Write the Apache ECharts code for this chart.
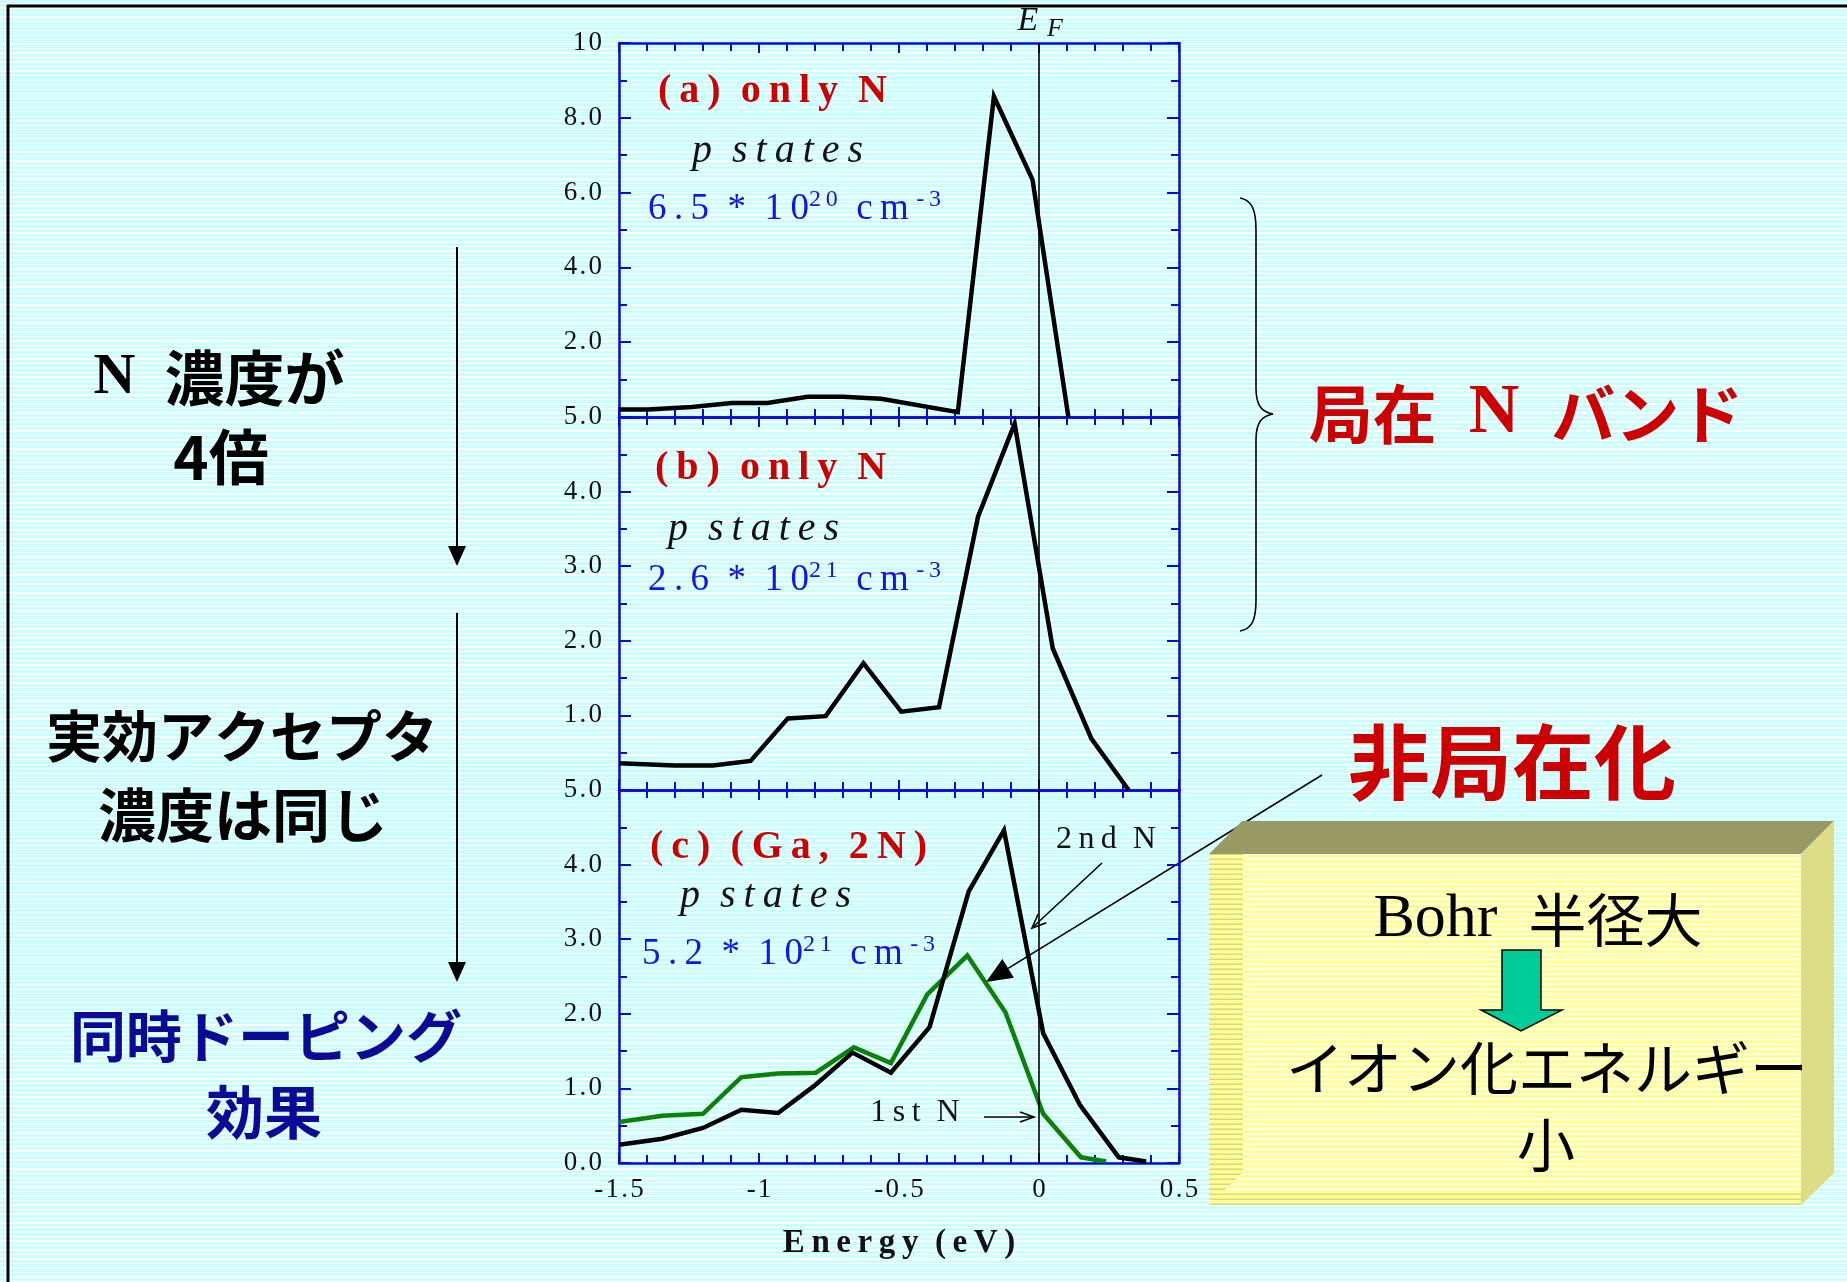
<!DOCTYPE html>
<html>
<head>
<meta charset="UTF-8">
<title>p states DOS</title>
<script src="https://cdn.jsdelivr.net/npm/echarts@6/dist/echarts.min.js"></script>
<style>
  html, body { margin: 0; padding: 0; }
  body {
    width: 1847px; height: 1282px; overflow: hidden;
    background: repeating-linear-gradient(to bottom, #ccffff 0px, #ccffff 3px, #ffffff 3px, #ffffff 4.5px);
  }
  #chart { width: 1847px; height: 1282px; }
</style>
</head>
<body>
<div id="chart"></div>
<script>
// ---- data ----
// (a) only N, 6.5e20
var aEnergy = [-1.5, -1.395, -1.24, -1.097, -0.97, -0.827, -0.70, -0.564, -0.29, -0.161, -0.023, 0.105];
var aDos    = [0.2, 0.2, 0.27, 0.375, 0.375, 0.54, 0.54, 0.49, 0.13, 8.57, 6.34, 0];
// (b) only N, 2.6e21
var bEnergy = [-1.5, -1.30, -1.165, -1.03, -0.897, -0.762, -0.627, -0.492, -0.357, -0.218, -0.087, 0.049, 0.187, 0.32];
var bDos    = [0.357, 0.33, 0.33, 0.39, 0.96, 0.99, 1.70, 1.05, 1.11, 3.66, 4.91, 1.90, 0.69, 0.0];
// (c) (Ga, 2N), 2nd N (black) and 1st N (green)
var c2Energy = [-1.5, -1.345, -1.2, -1.063, -0.932, -0.804, -0.666, -0.529, -0.391, -0.251, -0.125, 0.015, 0.146, 0.285, 0.383];
var c2Dos    = [0.245, 0.326, 0.47, 0.714, 0.67, 1.03, 1.48, 1.21, 1.82, 3.64, 4.46, 1.74, 0.78, 0.076, 0.02];
var c1Energy = [-1.5, -1.345, -1.2, -1.063, -0.932, -0.797, -0.661, -0.529, -0.399, -0.256, -0.12, 0.015, 0.15, 0.24];
var c1Dos    = [0.55, 0.634, 0.66, 1.15, 1.20, 1.21, 1.55, 1.34, 2.26, 2.78, 2.02, 0.66, 0.076, 0.02];

// tick labels
var xTicks = [-1.5, -1, -0.5, 0, 0.5];
var xTickText = ['-1.5', '-1', '-0.5', '0', '0.5'];
var aYTicks = [0, 2, 4, 6, 8, 10];
var aYText  = ['', '2.0', '4.0', '6.0', '8.0', '10'];
var bYTicks = [0, 1, 2, 3, 4, 5];
var bYText  = ['', '1.0', '2.0', '3.0', '4.0', '5.0'];
var cYText  = ['0.0', '1.0', '2.0', '3.0', '4.0', '5.0'];

var SERIF = '"Liberation Serif", "Times New Roman", serif';
var GOTHIC = '"Noto Sans CJK JP", sans-serif';
var AXIS_BLUE = '#0a0ad2';
var CONC_BLUE = '#1414e6';
var RED = '#cc0000';

// letter-spaced words (thin space), en space between words
function sp(s) {
  return s.split(' ').map(function (w) { return w.split('').join('\u2009'); }).join('\u2002');
}
// tighter spacing for tick numbers
function spTick(s) { return s.split('').join('\u200A'); }
function lookup(ticks, texts) {
  return function (v) {
    for (var i = 0; i < ticks.length; i++) {
      if (Math.abs(ticks[i] - v) < 1e-6) return spTick(texts[i]);
    }
    return '';
  };
}
function pairs(xs, ys) {
  var out = [];
  for (var i = 0; i < xs.length; i++) out.push([xs[i], ys[i]]);
  return out;
}
function stripes(base, line, period, lineH) {
  var c = document.createElement('canvas');
  c.width = 8; c.height = period;
  var g = c.getContext('2d');
  g.fillStyle = base; g.fillRect(0, 0, 8, period);
  g.fillStyle = line; g.fillRect(0, period - lineH, 8, lineH);
  return { image: c, repeat: 'repeat' };
}

var grids = [
  { left: 619, top: 43, width: 560, height: 374 },
  { left: 619, top: 417, width: 560, height: 373 },
  { left: 619, top: 790, width: 560, height: 373 }
];

function xAxisOf(i, pos) {
  var bottomLabels = (pos === 'bottom' && i === 2);
  return {
    type: 'value', gridIndex: i, position: pos,
    min: -1.5, max: 0.5, interval: 0.5,
    axisLine: { show: true, onZero: false, lineStyle: { color: AXIS_BLUE, width: 2.5 } },
    axisTick: { show: true, inside: true, length: 10, lineStyle: { color: AXIS_BLUE, width: 2 } },
    minorTick: { show: true, splitNumber: 5, length: 8, lineStyle: { color: AXIS_BLUE, width: 2 } },
    splitLine: { show: false },
    axisLabel: {
      show: bottomLabels, margin: 13, color: '#111',
      fontFamily: SERIF, fontSize: 27,
      formatter: lookup(xTicks, xTickText)
    },
    name: bottomLabels ? sp('Energy (eV)') : '',
    nameLocation: 'middle', nameGap: 64,
    nameTextStyle: { fontFamily: SERIF, fontSize: 33, fontWeight: 'bold', color: '#111' }
  };
}
function yAxisOf(i, pos, max, interval, ticks, texts) {
  return {
    type: 'value', gridIndex: i, position: pos,
    min: 0, max: max, interval: interval,
    axisLine: { show: true, onZero: false, lineStyle: { color: AXIS_BLUE, width: 2.5 } },
    axisTick: { show: true, inside: true, length: 12, lineStyle: { color: AXIS_BLUE, width: 2 } },
    minorTick: { show: true, splitNumber: 2, length: 8, lineStyle: { color: AXIS_BLUE, width: 2 } },
    splitLine: { show: false },
    axisLabel: {
      show: pos === 'left', margin: 17, color: '#111',
      fontFamily: SERIF, fontSize: 27,
      formatter: lookup(ticks, texts)
    }
  };
}

var efLine = {
  silent: true, symbol: 'none', animation: false,
  lineStyle: { color: '#000', width: 1.6, type: 'solid' },
  label: { show: false },
  data: [{ xAxis: 0 }]
};
function lineSeries(name, xi, yi, data, color, withEf) {
  var s = {
    name: name, type: 'line', xAxisIndex: xi, yAxisIndex: yi,
    data: data, symbol: 'none', clip: true, animation: false,
    lineStyle: { color: color, width: 4.5, join: 'miter' }
  };
  if (withEf) s.markLine = efLine;
  return s;
}

// ---- annotation helpers ----
function headPts(x1, y1, x2, y2, len, half) {
  var dx = x2 - x1, dy = y2 - y1, L = Math.sqrt(dx * dx + dy * dy);
  var ux = dx / L, uy = dy / L;
  var bx = x2 - ux * len, by = y2 - uy * len;
  return [[bx - uy * half, by + ux * half], [x2, y2], [bx + uy * half, by - ux * half]];
}
function arrowFilled(x1, y1, x2, y2, len, half, w) {
  var h = headPts(x1, y1, x2, y2, len, half);
  return [
    { type: 'line', shape: { x1: x1, y1: y1, x2: (h[0][0] + h[2][0]) / 2, y2: (h[0][1] + h[2][1]) / 2 }, style: { stroke: '#000', lineWidth: w } },
    { type: 'polygon', shape: { points: h }, style: { fill: '#000' } }
  ];
}
function arrowOpen(x1, y1, x2, y2, len, half, w) {
  return [
    { type: 'line', shape: { x1: x1, y1: y1, x2: x2, y2: y2 }, style: { stroke: '#000', lineWidth: w } },
    { type: 'polyline', shape: { points: headPts(x1, y1, x2, y2, len, half) }, style: { stroke: '#000', lineWidth: w, fill: null } }
  ];
}
function txt(x, y, text, font, color) {
  return { type: 'text', x: x, y: y, style: { text: text, font: font, fill: color, align: 'center', verticalAlign: 'middle' } };
}
function curve(x1, y1, c1x, c1y, c2x, c2y, x2, y2) {
  return {
    type: 'bezierCurve',
    shape: { x1: x1, y1: y1, cpx1: c1x, cpy1: c1y, cpx2: c2x, cpy2: c2y, x2: x2, y2: y2 },
    style: { stroke: '#000', lineWidth: 1.6, fill: null }
  };
}
function seg(x1, y1, x2, y2, w) {
  return { type: 'line', shape: { x1: x1, y1: y1, x2: x2, y2: y2 }, style: { stroke: '#000', lineWidth: w } };
}

var richConc = {
  m: { fontFamily: SERIF, fontSize: 37, fill: CONC_BLUE, lineHeight: 42 },
  s: { fontFamily: SERIF, fontSize: 24, fill: CONC_BLUE, lineHeight: 24, verticalAlign: 'top' }
};
function concText(x, y, mant, exp) {
  return {
    type: 'text', x: x, y: y,
    style: {
      text: '{m|' + sp(mant + ' * 10') + '}{s|' + sp(exp) + '}{m|\u2002' + sp('cm') + '\u2009}{s|' + sp('-3') + '}',
      rich: richConc, align: 'left', verticalAlign: 'middle'
    }
  };
}
function panelTitle(x, y, s) {
  return { type: 'text', x: x, y: y, style: { text: sp(s), font: 'bold 40px ' + SERIF, fill: RED, align: 'left', verticalAlign: 'middle' } };
}
function pStates(x, y) {
  return { type: 'text', x: x, y: y, style: { text: 'p\u2002' + sp('states'), font: 'italic 40px ' + SERIF, fill: '#111', align: 'left', verticalAlign: 'middle' } };
}

var graphics = [];
// slide frame (top and left edges)
graphics.push(seg(7, 6, 1847, 6, 3));
graphics.push(seg(8, 5, 8, 1282, 3));

// left column text
graphics.push({
  type: 'text', x: 219, y: 378,
  style: {
    text: '{n|N\u2002}{j|濃度が}', align: 'center', verticalAlign: 'middle',
    rich: {
      n: { fontFamily: SERIF, fontWeight: 'bold', fontSize: 58, fill: '#000' },
      j: { fontFamily: GOTHIC, fontWeight: 'bold', fontSize: 60, fill: '#000' }
    }
  }
});
graphics.push(txt(221, 457, '4倍', 'bold 60px ' + GOTHIC, '#000'));
graphics.push(txt(242, 736, '実効アクセプタ', 'bold 56px ' + GOTHIC, '#000'));
graphics.push(txt(243, 815, '濃度は同じ', 'bold 58px ' + GOTHIC, '#000'));
graphics.push(txt(266, 1036, '同時ドーピング', 'bold 56px ' + GOTHIC, '#0a0a96'));
graphics.push(txt(264, 1112, '効果', 'bold 58px ' + GOTHIC, '#0a0a96'));
graphics = graphics.concat(arrowFilled(457, 247, 457, 566, 20, 9, 2));
graphics = graphics.concat(arrowFilled(457, 613, 457, 982, 20, 9, 2));

// E_F label
graphics.push(txt(1028, 21, 'E', 'italic 34px ' + SERIF, '#111'));
graphics.push(txt(1055, 29, 'F', 'italic 26px ' + SERIF, '#111'));

// panel annotations
graphics.push(panelTitle(658, 92, '(a) only N'));
graphics.push(pStates(692, 151));
graphics.push(concText(648, 209, '6.5', '20'));
graphics.push(panelTitle(655, 469, '(b) only N'));
graphics.push(pStates(668, 529));
graphics.push(concText(648, 580, '2.6', '21'));
graphics.push(panelTitle(650, 848, '(c) (Ga, 2N)'));
graphics.push(pStates(680, 896));
graphics.push(concText(642, 954, '5.2', '21'));

// 2nd N / 1st N markers
graphics.push(txt(1106, 840, sp('2nd N'), '32px ' + SERIF, '#111'));
graphics = graphics.concat(arrowOpen(1102, 863, 1032, 928, 14, 6, 1.6));
graphics.push(txt(915, 1113, sp('1st N'), '32px ' + SERIF, '#111'));
graphics = graphics.concat(arrowOpen(984, 1117, 1034, 1117, 14, 5, 1.6));

// brace and localized band label
graphics.push(curve(1240, 198, 1252, 200, 1256, 210, 1256, 230));
graphics.push(seg(1256, 230, 1256, 388, 1.6));
graphics.push(curve(1256, 388, 1256, 406, 1262, 412, 1273, 414));
graphics.push(curve(1273, 414, 1262, 416, 1256, 422, 1256, 440));
graphics.push(seg(1256, 440, 1256, 600, 1.6));
graphics.push(curve(1256, 600, 1256, 620, 1252, 629, 1240, 631));
graphics.push({
  type: 'text', x: 1526, y: 414,
  style: {
    text: '{j|局在\u2002}{n|N}{j|\u2002バンド}', align: 'center', verticalAlign: 'middle',
    rich: {
      j: { fontFamily: GOTHIC, fontWeight: 'bold', fontSize: 64, fill: RED },
      n: { fontFamily: SERIF, fontWeight: 'bold', fontSize: 70, fill: RED }
    }
  }
});
graphics.push(txt(1512, 762, '非局在化', 'bold 82px ' + GOTHIC, RED));
graphics = graphics.concat(arrowFilled(1322, 775, 986, 982, 26, 11, 1.6));

// 3D note box
graphics.push({ type: 'polygon', shape: { points: [[1209, 854], [1242, 821], [1834, 821], [1801, 854]] }, style: { fill: '#999966' } });
graphics.push({ type: 'polygon', shape: { points: [[1801, 854], [1834, 821], [1834, 1173], [1801, 1205]] }, style: { fill: '#dddd88' } });
graphics.push({ type: 'rect', shape: { x: 1209, y: 854, width: 592, height: 351 }, style: { fill: stripes('#ffff99', '#ffffff', 5, 1.5) } });
graphics.push({ type: 'polygon', shape: { points: [[1209, 854], [1243, 854], [1243, 1172], [1225, 1190], [1801, 1190], [1801, 1205], [1209, 1205]] }, style: { fill: stripes('#ffff99', '#d8d880', 5, 1.5) } });
graphics.push({
  type: 'text', x: 1538, y: 920,
  style: {
    text: '{b|Bohr\u2002}{j|半径大}', align: 'center', verticalAlign: 'middle',
    rich: {
      b: { fontFamily: SERIF, fontSize: 62, fill: '#000' },
      j: { fontFamily: GOTHIC, fontSize: 58, fill: '#000' }
    }
  }
});
graphics.push({
  type: 'polygon',
  shape: { points: [[1502, 950], [1541, 950], [1541, 1010], [1562, 1010], [1521, 1031], [1481, 1010], [1502, 1010]] },
  style: { fill: '#00cc99', stroke: '#000', lineWidth: 1.5 }
});
graphics.push(txt(1547, 1068, 'イオン化エネルギー', '58px ' + GOTHIC, '#000'));
graphics.push(txt(1546, 1145, '小', '58px ' + GOTHIC, '#000'));

var chart = echarts.init(document.getElementById('chart'), null, { renderer: 'canvas' });
chart.setOption({
  backgroundColor: 'transparent',
  animation: false,
  grid: grids,
  xAxis: [xAxisOf(0, 'bottom'), xAxisOf(1, 'bottom'), xAxisOf(2, 'bottom'),
          xAxisOf(0, 'top'), xAxisOf(1, 'top'), xAxisOf(2, 'top')],
  yAxis: [yAxisOf(0, 'left', 10, 2, aYTicks, aYText),
          yAxisOf(1, 'left', 5, 1, bYTicks, bYText),
          yAxisOf(2, 'left', 5, 1, bYTicks, cYText),
          yAxisOf(0, 'right', 10, 2, aYTicks, aYText),
          yAxisOf(1, 'right', 5, 1, bYTicks, bYText),
          yAxisOf(2, 'right', 5, 1, bYTicks, cYText)],
  series: [
    lineSeries('(a) only N', 0, 0, pairs(aEnergy, aDos), '#000', true),
    lineSeries('(b) only N', 1, 1, pairs(bEnergy, bDos), '#000', true),
    lineSeries('1st N', 2, 2, pairs(c1Energy, c1Dos), '#0a820a', false),
    lineSeries('2nd N', 2, 2, pairs(c2Energy, c2Dos), '#000', true)
  ],
  graphic: graphics
});
</script>
</body>
</html>
